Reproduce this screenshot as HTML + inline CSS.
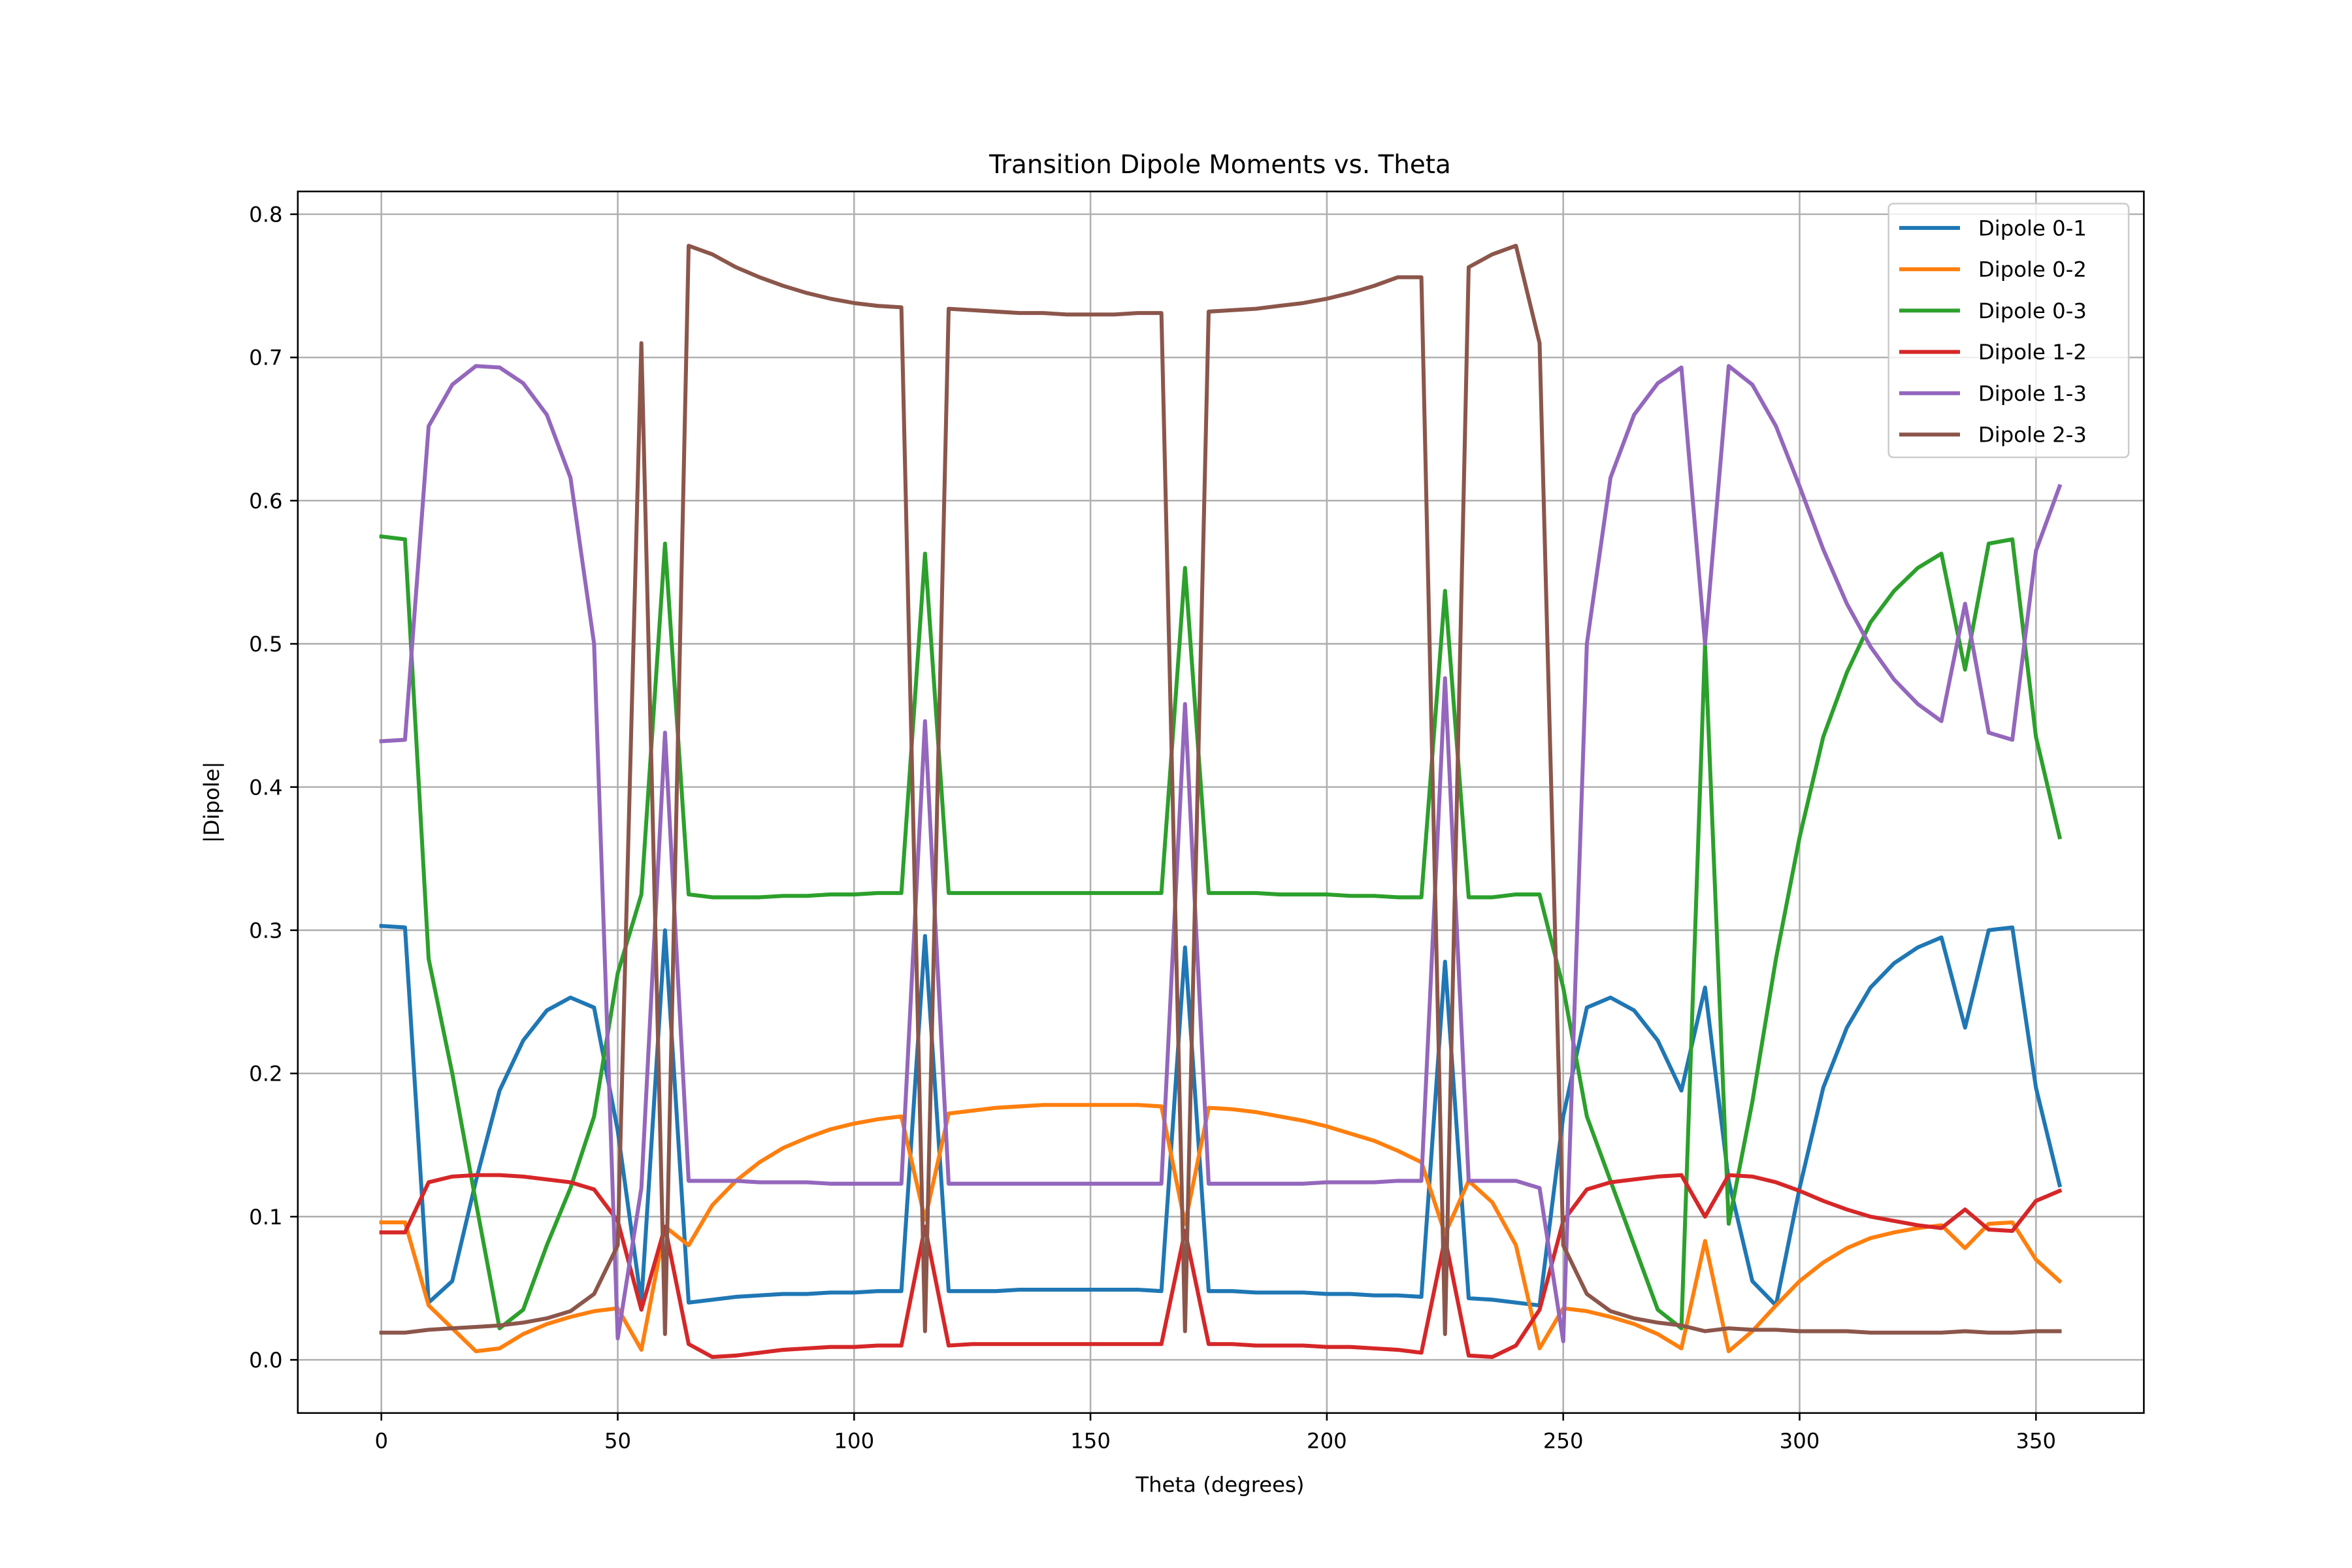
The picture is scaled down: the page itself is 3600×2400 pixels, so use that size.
<!DOCTYPE html>
<html><head><meta charset="utf-8"><style>
html,body{margin:0;padding:0;background:#fff}
svg{display:block}
text{font-family:"DejaVu Sans","Liberation Sans",sans-serif;fill:#000}
</style></head><body>
<svg id="chart" width="3600" height="2400" viewBox="0 0 1548 1032" xmlns="http://www.w3.org/2000/svg">
<rect x="0" y="0" width="1548" height="1032" fill="#fff"/>
<g id="grid"></g>
<g id="series"></g>
<rect x="196" y="126" width="1215" height="804" fill="none" stroke="#000" stroke-width="1.1"/>
<g id="ticks"></g>
<text x="803" y="114" text-anchor="middle" font-size="16.7">Transition Dipole Moments vs. Theta</text>
<text x="803" y="982" text-anchor="middle" font-size="13.9">Theta (degrees)</text>
<text x="0" y="0" text-anchor="middle" font-size="13.9" transform="translate(144,528) rotate(-90)">|Dipole|</text>
<g id="legend"></g>
</svg>
<script>
const theta = [];
for (let t = 0; t <= 355; t += 5) theta.push(t);
const seriesNames = ["Dipole 0-1","Dipole 0-2","Dipole 0-3","Dipole 1-2","Dipole 1-3","Dipole 2-3"];
const colors = ["#1f77b4","#ff7f0e","#2ca02c","#d62728","#9467bd","#8c564b"];
const d01 = [0.303,0.302,0.040,0.055,0.125,0.188,0.223,0.244,0.253,0.246,0.160,0.040,0.300,0.040,0.042,0.044,0.045,0.046,0.046,0.047,0.047,0.048,0.048,0.296,0.048,0.048,0.048,0.049,0.049,0.049,0.049,0.049,0.049,0.048,0.288,0.048,0.048,0.047,0.047,0.047,0.046,0.046,0.045,0.045,0.044,0.278,0.043,0.042,0.040,0.038,0.170,0.246,0.253,0.244,0.223,0.188,0.260,0.125,0.055,0.038,0.120,0.190,0.232,0.260,0.277,0.288,0.295,0.232,0.300,0.302,0.190,0.122];
const d02 = [0.096,0.096,0.038,0.022,0.006,0.008,0.018,0.025,0.030,0.034,0.036,0.007,0.093,0.080,0.108,0.125,0.138,0.148,0.155,0.161,0.165,0.168,0.170,0.098,0.172,0.174,0.176,0.177,0.178,0.178,0.178,0.178,0.178,0.177,0.095,0.176,0.175,0.173,0.170,0.167,0.163,0.158,0.153,0.146,0.138,0.088,0.125,0.110,0.080,0.008,0.036,0.034,0.030,0.025,0.018,0.008,0.083,0.006,0.020,0.038,0.055,0.068,0.078,0.085,0.089,0.092,0.094,0.078,0.095,0.096,0.070,0.055];
const d03 = [0.575,0.573,0.280,0.200,0.110,0.022,0.035,0.080,0.120,0.170,0.270,0.325,0.570,0.325,0.323,0.323,0.323,0.324,0.324,0.325,0.325,0.326,0.326,0.563,0.326,0.326,0.326,0.326,0.326,0.326,0.326,0.326,0.326,0.326,0.553,0.326,0.326,0.326,0.325,0.325,0.325,0.324,0.324,0.323,0.323,0.537,0.323,0.323,0.325,0.325,0.260,0.170,0.125,0.080,0.035,0.022,0.500,0.095,0.180,0.280,0.365,0.435,0.480,0.515,0.537,0.553,0.563,0.482,0.570,0.573,0.435,0.365];
const d12 = [0.089,0.089,0.124,0.128,0.129,0.129,0.128,0.126,0.124,0.119,0.097,0.035,0.093,0.011,0.002,0.003,0.005,0.007,0.008,0.009,0.009,0.010,0.010,0.093,0.010,0.011,0.011,0.011,0.011,0.011,0.011,0.011,0.011,0.011,0.090,0.011,0.011,0.010,0.010,0.010,0.009,0.009,0.008,0.007,0.005,0.085,0.003,0.002,0.010,0.035,0.097,0.119,0.124,0.126,0.128,0.129,0.100,0.129,0.128,0.124,0.118,0.111,0.105,0.100,0.097,0.094,0.092,0.105,0.091,0.090,0.111,0.118];
const d13 = [0.432,0.433,0.652,0.681,0.694,0.693,0.682,0.660,0.616,0.500,0.015,0.120,0.438,0.125,0.125,0.125,0.124,0.124,0.124,0.123,0.123,0.123,0.123,0.446,0.123,0.123,0.123,0.123,0.123,0.123,0.123,0.123,0.123,0.123,0.458,0.123,0.123,0.123,0.123,0.123,0.124,0.124,0.124,0.125,0.125,0.476,0.125,0.125,0.125,0.120,0.013,0.500,0.616,0.660,0.682,0.693,0.500,0.694,0.681,0.652,0.610,0.566,0.528,0.498,0.475,0.458,0.446,0.528,0.438,0.433,0.565,0.610];
const d23 = [0.019,0.019,0.021,0.022,0.023,0.024,0.026,0.029,0.034,0.046,0.080,0.710,0.018,0.778,0.772,0.763,0.756,0.750,0.745,0.741,0.738,0.736,0.735,0.020,0.734,0.733,0.732,0.731,0.731,0.730,0.730,0.730,0.731,0.731,0.020,0.732,0.733,0.734,0.736,0.738,0.741,0.745,0.750,0.756,0.756,0.018,0.763,0.772,0.778,0.710,0.080,0.046,0.034,0.029,0.026,0.024,0.020,0.022,0.021,0.021,0.020,0.020,0.020,0.019,0.019,0.019,0.019,0.020,0.019,0.019,0.020,0.020];
const allSeries = [d01,d02,d03,d12,d13,d23];
const xTicks = [0,50,100,150,200,250,300,350];
const yTicks = [0.0,0.1,0.2,0.3,0.4,0.5,0.6,0.7,0.8];

const NS = "http://www.w3.org/2000/svg";
function xs(v){ return 251 + v * (1089/350); }
function ys(v){ return 895 - v * 942.5; }
function mk(tag, attrs, parent){ const e=document.createElementNS(NS,tag); for(const k in attrs) e.setAttribute(k,attrs[k]); parent.appendChild(e); return e; }
const grid=document.getElementById('grid'), ticks=document.getElementById('ticks'), sg=document.getElementById('series'), lg=document.getElementById('legend');
xTicks.forEach(t=>{
  const x=xs(t);
  const g=mk('line',{x1:x,x2:x,y1:126,y2:930,stroke:'#b0b0b0','stroke-width':1.1},grid);
  
  
  const tk=mk('line',{x1:x,x2:x,y1:930,y2:935,stroke:'#000','stroke-width':1.1},ticks);
  
  
  const tx=mk('text',{x:x,y:953,'text-anchor':'middle','font-size':13.9},ticks);
  tx.textContent=String(t);
  
  
});
yTicks.forEach(t=>{
  const y=ys(t);
  const g=mk('line',{x1:196,x2:1411,y1:y,y2:y,stroke:'#b0b0b0','stroke-width':1.1},grid);
  
  
  const tk=mk('line',{x1:191,x2:196,y1:y,y2:y,stroke:'#000','stroke-width':1.1},ticks);
  
  
  const tx=mk('text',{x:186,y:y+5,'text-anchor':'end','font-size':13.9},ticks);
  tx.textContent=t.toFixed(1);
  
  
});
allSeries.forEach((s,i)=>{
  const pts=s.map((v,j)=>xs(theta[j]).toFixed(2)+','+ys(v).toFixed(2)).join(' ');
  const pl=mk('polyline',{points:pts,fill:'none',stroke:colors[i],'stroke-width':2.6,'stroke-linejoin':'round','stroke-linecap':'square'},sg);
  
  
});
const box=mk('rect',{x:1243,y:134,width:158,height:167,rx:3,fill:'#fff','fill-opacity':0.8,stroke:'#ccc','stroke-width':1.1},lg);


seriesNames.forEach((n,i)=>{
  const y=150+i*27.2;
  const ln=mk('line',{x1:1250,x2:1290,y1:y,y2:y,stroke:colors[i],'stroke-width':2.6},lg);
  
  
  const tx=mk('text',{x:1302,y:y+5,'font-size':13.9},lg);
  tx.textContent=n;
  
  
});
</script>
</body></html>
